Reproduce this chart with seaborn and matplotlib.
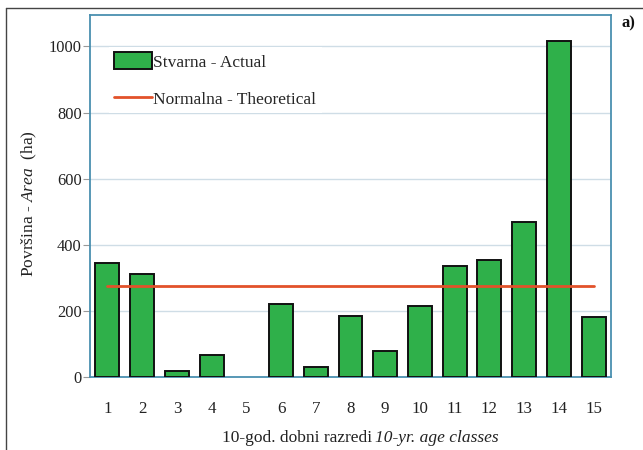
import matplotlib
matplotlib.use("Agg")
import matplotlib.pyplot as plt
import seaborn as sns
import numpy as np
import pandas as pd
from matplotlib.lines import Line2D
from matplotlib.patches import Patch

# ---- data ----
age_classes = ["1", "2", "3", "4", "5", "6", "7", "8", "9", "10", "11", "12", "13", "14", "15"]
actual_area = [345, 312, 18, 66, 0, 220, 30, 185, 80, 215, 335, 355, 468, 1015, 180]
theoretical_area = [275, 275, 275, 275, 275, 275, 275, 275, 275, 275, 275, 275, 275, 275, 275]
y_ticks = [0, 200, 400, 600, 800, 1000]

bar_green = "#2fb04a"
line_red = "#e2522a"
spine_blue = "#4a90b0"

sns.set_theme(style="white")
plt.rcParams["font.family"] = ["Liberation Serif", "DejaVu Serif"]
plt.rcParams["mathtext.fontset"] = "custom"
plt.rcParams["mathtext.rm"] = "Liberation Serif"
plt.rcParams["mathtext.it"] = "Liberation Serif:italic"

fig = plt.figure(figsize=(6.43, 4.5), dpi=100)
ax = fig.add_axes([90 / 643, 1 - 377 / 450, (611 - 90) / 643, (377 - 15) / 450])

df = pd.DataFrame({"cls": age_classes, "area": actual_area})
sns.barplot(data=df, x="cls", y="area", color=bar_green, saturation=1,
            edgecolor="#111111", linewidth=1.4, width=0.69, ax=ax, zorder=3)
for p in ax.patches:
    if p.get_height() == 0:
        p.set_linewidth(0)
sns.lineplot(x=np.arange(len(age_classes)), y=theoretical_area, color=line_red,
             linewidth=2.0, ax=ax, zorder=4)

ax.set_xlim(-0.5, len(age_classes) - 0.5)
ax.set_ylim(0, 1095)
ax.set_yticks(y_ticks)
ax.set_yticklabels([str(v) for v in y_ticks], fontsize=11.8, color="#222222")
ax.yaxis.grid(True, color="#cfdde6", linewidth=1.0, zorder=0)
ax.set_axisbelow(True)

# x ticks: labels at centres, tick marks at boundaries
ax.set_xticks(np.arange(len(age_classes)))
ax.set_xticklabels(age_classes, fontsize=12.2, color="#222222")
ax.tick_params(axis="x", which="major", length=0, pad=17)
ax.set_xticks(np.arange(len(age_classes) + 1) - 0.5, minor=True)
ax.tick_params(axis="x", which="minor", length=4, width=0.8, color="#999999", direction="out")
ax.tick_params(axis="y", length=5, width=0.8, color="#999999", direction="out", left=True, pad=1)

for s in ax.spines.values():
    s.set_color(spine_blue)
    s.set_linewidth(1.3)

ax.set_xlabel("")
ax.set_ylabel(r"Površina - $\mathit{Area}$  (ha)", fontsize=12.5, color="#222222")
ax.yaxis.set_label_coords((39 - 90) / 521, (377 - 204) / 362)

fig.text(372 / 643, 1 - 442 / 450, "10-god. dobni razredi", ha="right", va="baseline",
         fontsize=12.5, color="#222222")
fig.text(375 / 643, 1 - 442 / 450, "10-yr. age classes", ha="left", va="baseline",
         fontsize=12.5, style="italic", color="#222222")

fig.text(621 / 643, 1 - 27 / 450, "a)", ha="left", va="baseline", fontsize=12,
         fontweight="bold", color="#111111")

handles = [Patch(facecolor=bar_green, edgecolor="#111111", linewidth=1.4),
           Line2D([0], [0], color=line_red, linewidth=2.0)]
leg = ax.legend(handles, ["Stvarna - Actual", "Normalna - Theoretical"],
                loc="upper left", bbox_to_anchor=(0.02, 0.935), fontsize=12.5,
                frameon=True, facecolor="white", edgecolor="none", framealpha=1,
                handlelength=2.15, handleheight=1.1, handletextpad=0.1,
                labelspacing=1.1, borderpad=0.3, fancybox=False)
leg.set_zorder(5)

# outer frame of the figure panel
fig.add_artist(Line2D([6 / 643, 1.0], [1 - 8 / 450, 1 - 8 / 450], color="#444444", linewidth=1.0))
fig.add_artist(Line2D([6 / 643, 6 / 643], [1 - 8 / 450, 0.0], color="#444444", linewidth=1.0))

fig.savefig("out.png", dpi=100)
